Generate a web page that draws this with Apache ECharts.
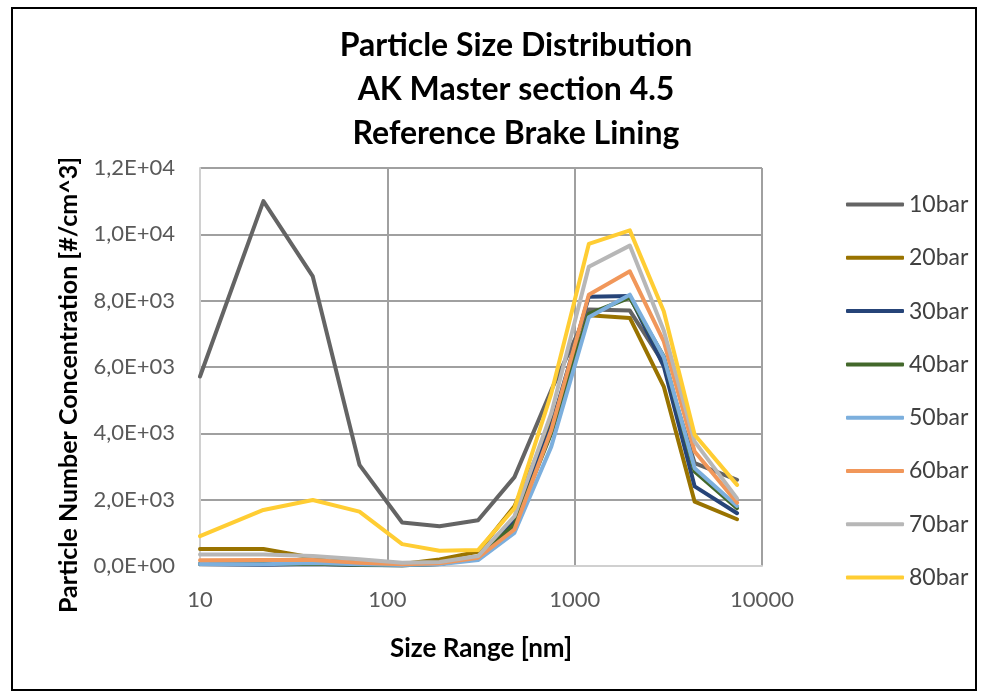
<!DOCTYPE html>
<html>
<head>
<meta charset="utf-8">
<script src="https://cdn.jsdelivr.net/npm/echarts@6/dist/echarts.min.js"></script>
<style>
  html, body { margin: 0; padding: 0; background: #fff; }
  #chart { width: 982px; height: 696px; }
</style>
</head>
<body>
<div id="chart"></div>
<script>
// size channels [nm]
var sizes = [10, 21.8, 40, 71, 120, 190, 305, 477, 750, 1190, 1970, 2990, 4370, 7360];

var bar10 = [5715, 11000, 8730, 3050, 1310, 1200, 1380, 2680, 5300, 7730, 7700, 6100, 3100, 2600];
var bar20 = [510, 510, 250, 130, 60, 200, 430, 1800, 4300, 7560, 7480, 5410, 1940, 1410];
var bar30 = [60, 40, 60, 30, 20, 60, 250, 1400, 4200, 8120, 8140, 6020, 2400, 1590];
var bar40 = [60, 60, 70, 40, 20, 60, 250, 1250, 4000, 7600, 8090, 6320, 2850, 1740];
var bar50 = [60, 50, 90, 50, 30, 50, 180, 1000, 3600, 7500, 8180, 6300, 2950, 1810];
var bar60 = [170, 180, 180, 100, 50, 80, 250, 1100, 4100, 8180, 8885, 6770, 3450, 1910];
var bar70 = [350, 350, 300, 200, 100, 120, 300, 1500, 4600, 9020, 9660, 7100, 3750, 2040];
var bar80 = [900, 1690, 1990, 1640, 660, 460, 480, 1740, 5200, 9710, 10120, 7680, 3955, 2445];

var seriesNames = ["10bar", "20bar", "30bar", "40bar", "50bar", "60bar", "70bar", "80bar"];
var seriesValues = [bar10, bar20, bar30, bar40, bar50, bar60, bar70, bar80];
var colors = ["#646464", "#997300", "#264478", "#43682b", "#7cafdd", "#f1975a", "#b7b7b7", "#ffcd33"];

var font = "Lato, 'Open Sans', sans-serif";

function sciLabel(v) {
  if (v === 0) return "0,0E+00";
  var e = Math.floor(Math.log10(v));
  var m = v / Math.pow(10, e);
  return m.toFixed(1).replace(".", ",") + "E+" + (e < 10 ? "0" + e : e);
}

var chart = echarts.init(document.getElementById("chart"));

var option = {
  backgroundColor: "#fff",
  color: colors,
  animation: false,
  title: {
    text: "Particle Size Distribution\nAK Master section 4.5\nReference Brake Lining",
    left: 511,
    top: 19,
    textAlign: "center",
    textStyle: {
      fontFamily: font,
      fontSize: 32,
      fontWeight: "bold",
      color: "#000",
      lineHeight: 44
    }
  },
  legend: {
    orient: "vertical",
    left: 841,
    top: 188,
    icon: "roundRect",
    itemWidth: 58,
    itemHeight: 4,
    itemGap: 30.3,
    data: seriesNames,
    textStyle: {
      fontFamily: font,
      fontSize: 23,
      lineHeight: 22,
      color: "#404040",
      padding: [0, 0, 0, 0]
    }
  },
  grid: {
    left: 200,
    right: 220,
    top: 168,
    bottom: 130
  },
  xAxis: {
    type: "log",
    logBase: 10,
    min: 10,
    max: 10000,
    name: "Size Range [nm]",
    nameLocation: "middle",
    nameGap: 70,
    nameTextStyle: {
      fontFamily: font,
      fontSize: 26,
      fontWeight: "bold",
      color: "#000"
    },
    axisLine: { lineStyle: { color: "#d0d0d0", width: 2 } },
    axisTick: { show: false },
    axisLabel: {
      margin: 23,
      fontFamily: font,
      fontSize: 22,
      color: "#595959",
      formatter: function (v) { return String(v); }
    },
    splitLine: { show: true, lineStyle: { color: "#a0a0a0", width: 2 } },
    minorTick: { show: false },
    minorSplitLine: { show: false }
  },
  yAxis: {
    type: "value",
    min: 0,
    max: 12000,
    interval: 2000,
    name: "Particle Number Concentration [#/cm^3]",
    nameLocation: "middle",
    nameGap: 119,
    nameRotate: 90,
    nameTextStyle: {
      fontFamily: font,
      fontSize: 25,
      fontWeight: "bold",
      color: "#000",
      padding: [0, 36, 0, 0]
    },
    axisLine: { show: true, lineStyle: { color: "#d0d0d0", width: 2 } },
    axisTick: { show: false },
    axisLabel: {
      margin: 25,
      fontFamily: font,
      fontSize: 22,
      color: "#595959",
      formatter: sciLabel
    },
    splitLine: { show: true, lineStyle: { color: "#a0a0a0", width: 2 } }
  },
  graphic: [{
    type: "rect",
    shape: { x: 12, y: 8, width: 964, height: 682 },
    style: { fill: "none", stroke: "#000", lineWidth: 2 },
    silent: true
  }],
  series: seriesNames.map(function (name, i) {
    return {
      name: name,
      type: "line",
      showSymbol: false,
      symbol: "none",
      smooth: false,
      lineStyle: { width: 4, color: colors[i], join: "round", cap: "round" },
      data: sizes.map(function (s, j) { return [s, seriesValues[i][j]]; })
    };
  })
};

chart.setOption(option);
</script>
</body>
</html>
